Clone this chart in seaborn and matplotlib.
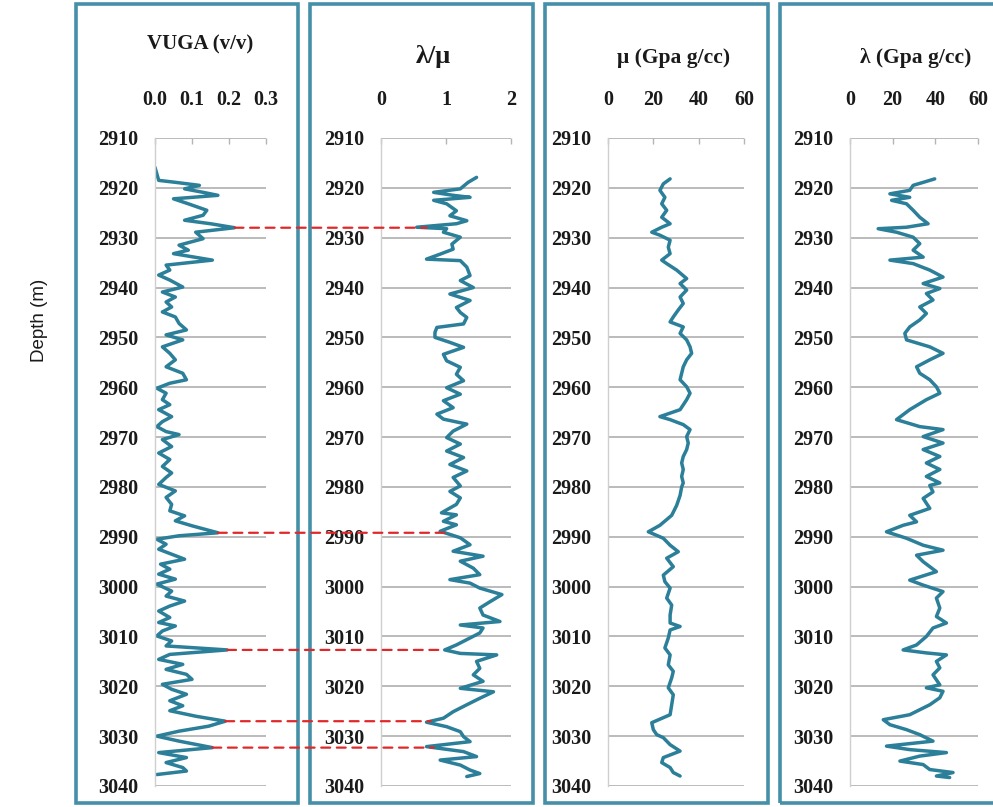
import numpy as np
import pandas as pd
import seaborn as sns
import matplotlib
matplotlib.use('Agg')
import matplotlib.pyplot as plt
from matplotlib.patches import Rectangle, ConnectionPatch

sns.set_style("white")
plt.rcParams['font.family'] = ['Liberation Serif', 'DejaVu Serif']

depth_vuga = [2915.9, 2917.2, 2918.5, 2918.9, 2919.5, 2920.2, 2920.9, 2921.5, 2922.2, 2923.2,
              2924.5, 2925.5, 2926.5, 2927.2, 2928.0, 2928.9, 2930.2, 2931.5, 2932.5, 2933.2,
              2934.5, 2935.5, 2936.5, 2937.5, 2938.5, 2939.9, 2940.9, 2941.9, 2942.9, 2943.9,
              2944.9, 2945.9, 2947.2, 2948.5, 2949.5, 2950.5, 2951.9, 2953.2, 2954.5, 2955.9,
              2957.2, 2958.5, 2959.2, 2960.2, 2961.2, 2962.5, 2963.5, 2964.5, 2965.9, 2966.9,
              2967.9, 2968.9, 2969.5, 2970.5, 2971.9, 2973.2, 2974.5, 2975.9, 2977.2, 2978.1,
              2979.5, 2980.8, 2982.1, 2983.5, 2984.8, 2985.8, 2986.8, 2987.8, 2988.5, 2989.2,
              2989.8, 2990.5, 2991.5, 2992.5, 2993.5, 2994.5, 2995.5, 2996.5, 2997.5, 2998.5,
              2999.5, 3000.9, 3001.9, 3002.9, 3003.9, 3004.9, 3006.2, 3007.2, 3007.9, 3008.9,
              3009.9, 3010.9, 3011.9, 3012.7, 3013.6, 3014.6, 3015.6, 3016.6, 3017.6, 3018.6,
              3019.6, 3020.6, 3021.6, 3022.9, 3023.9, 3024.9, 3026.0, 3027.0, 3028.0, 3029.0,
              3030.0, 3031.0, 3032.3, 3033.3, 3034.3, 3035.3, 3036.3, 3037.0, 3037.7]
vuga = [0.0, 0.005, 0.01, 0.056, 0.12, 0.08, 0.13, 0.17, 0.05, 0.09,
        0.14, 0.13, 0.08, 0.15, 0.215, 0.11, 0.13, 0.065, 0.09, 0.05,
        0.155, 0.03, 0.04, 0.01, 0.04, 0.075, 0.02, 0.055, 0.03, 0.045,
        0.02, 0.055, 0.065, 0.085, 0.03, 0.075, 0.02, 0.04, 0.055, 0.03,
        0.075, 0.085, 0.04, 0.005, 0.03, 0.02, 0.04, 0.01, 0.045, 0.02,
        0.005, 0.03, 0.065, 0.02, 0.045, 0.01, 0.04, 0.02, 0.045, 0.03,
        0.01, 0.055, 0.03, 0.045, 0.04, 0.08, 0.055, 0.1, 0.135, 0.17,
        0.065, 0.005, 0.03, 0.01, 0.045, 0.08, 0.015, 0.04, 0.01, 0.055,
        0.005, 0.045, 0.03, 0.08, 0.04, 0.01, 0.04, 0.01, 0.055, 0.02,
        0.005, 0.045, 0.03, 0.195, 0.04, 0.01, 0.075, 0.03, 0.085, 0.1,
        0.02, 0.045, 0.085, 0.04, 0.075, 0.04, 0.11, 0.19, 0.145, 0.065,
        0.005, 0.065, 0.155, 0.01, 0.085, 0.03, 0.075, 0.085, 0.005]

depth_ratio = [2917.9, 2918.9, 2920.2, 2920.9, 2921.5, 2921.9, 2922.5, 2923.2, 2924.6, 2925.6,
               2926.6, 2927.2, 2927.9, 2928.2, 2928.9, 2929.9, 2931.3, 2932.3, 2933.3, 2934.3,
               2934.6, 2935.9, 2937.6, 2938.6, 2940.0, 2941.3, 2942.6, 2944.0, 2945.0, 2946.0,
               2947.3, 2948.0, 2949.0, 2950.0, 2951.0, 2952.0, 2953.4, 2954.7, 2956.0, 2957.4,
               2958.7, 2960.1, 2961.4, 2962.7, 2964.1, 2965.4, 2966.4, 2967.4, 2968.8, 2970.1,
               2971.4, 2972.8, 2974.1, 2975.5, 2976.8, 2978.1, 2979.8, 2980.9, 2982.2, 2983.5,
               2985.2, 2985.6, 2986.9, 2987.6, 2988.9, 2990.2, 2991.6, 2992.9, 2993.9, 2994.9,
               2996.3, 2997.6, 2998.6, 2999.3, 3000.3, 3001.6, 3003.0, 3004.3, 3005.7, 3007.0,
               3007.7, 3008.3, 3009.3, 3010.3, 3011.7, 3012.7, 3013.4, 3013.7, 3015.0, 3016.4,
               3017.7, 3019.0, 3020.4, 3021.1, 3022.4, 3023.7, 3025.1, 3026.4, 3027.2, 3028.1,
               3029.1, 3030.1, 3031.1, 3032.1, 3033.1, 3034.1, 3034.8, 3035.8, 3036.8, 3037.5,
               3038.1]
ratio = [1.47, 1.34, 1.22, 0.81, 1.11, 1.37, 0.81, 1.01, 1.16, 1.06,
         1.32, 1.16, 0.55, 1.01, 0.96, 1.22, 1.09, 1.11, 0.91, 0.70,
         1.22, 1.32, 1.37, 1.22, 1.42, 1.06, 1.37, 1.16, 1.22, 1.32,
         1.27, 0.86, 0.83, 0.83, 1.06, 1.27, 0.96, 1.01, 1.22, 1.16,
         1.27, 1.01, 1.22, 0.96, 1.11, 0.86, 0.96, 1.32, 1.11, 1.01,
         1.22, 1.01, 1.27, 1.06, 1.32, 1.11, 1.22, 1.06, 1.22, 1.16,
         0.93, 1.16, 0.96, 1.16, 0.91, 1.22, 1.37, 1.11, 1.57, 1.22,
         1.42, 1.52, 1.06, 1.37, 1.52, 1.86, 1.68, 1.52, 1.57, 1.83,
         1.22, 1.57, 1.52, 1.37, 1.16, 0.98, 1.22, 1.78, 1.47, 1.52,
         1.42, 1.57, 1.22, 1.73, 1.52, 1.32, 1.11, 0.96, 0.70, 1.01,
         1.22, 1.27, 1.37, 0.70, 1.27, 1.47, 0.91, 1.22, 1.37, 1.52,
         1.32]

depth_mu = [2918.2, 2919.2, 2920.5, 2921.9, 2923.2, 2924.5, 2925.9, 2927.2, 2927.9, 2928.9,
            2929.5, 2930.5, 2931.9, 2933.2, 2934.5, 2935.2, 2936.5, 2938.2, 2939.2, 2940.5,
            2941.9, 2943.2, 2944.5, 2945.9, 2946.9, 2947.9, 2949.2, 2950.5, 2951.9, 2953.2,
            2954.5, 2955.9, 2957.2, 2958.5, 2959.9, 2961.2, 2962.5, 2964.5, 2965.9, 2966.5,
            2967.5, 2968.5, 2969.9, 2971.2, 2972.5, 2973.9, 2975.2, 2976.5, 2977.9, 2979.2,
            2980.0, 2981.7, 2983.7, 2985.7, 2987.7, 2989.0, 2990.3, 2991.7, 2993.0, 2994.3,
            2996.0, 2997.7, 2999.0, 3000.3, 3002.3, 3003.7, 3005.7, 3007.3, 3008.0, 3008.7,
            3010.3, 3012.3, 3013.7, 3015.7, 3017.0, 3018.3, 3020.3, 3021.7, 3023.7, 3025.7,
            3027.3, 3028.7, 3029.7, 3030.3, 3031.7, 3033.0, 3034.3, 3035.3, 3036.3, 3037.3,
            3038.0]
mu = [27.4, 24.4, 22.9, 25.1, 23.7, 25.9, 23.7, 27.4, 23.7, 19.3,
      22.9, 27.4, 26.6, 27.4, 23.7, 25.9, 30.3, 34.7, 31.8, 34.7,
      31.8, 33.2, 31.0, 28.8, 27.4, 33.2, 31.8, 34.7, 36.2, 36.9,
      34.7, 33.2, 32.5, 31.8, 34.7, 36.2, 34.7, 31.8, 22.9, 27.4,
      33.2, 36.2, 34.7, 35.4, 34.7, 33.2, 32.5, 33.2, 32.5, 33.2,
      32.5, 31.8, 30.3, 28.1, 22.9, 17.8, 24.4, 27.4, 31.0, 25.9,
      28.8, 24.4, 25.1, 27.4, 25.9, 28.1, 27.4, 27.4, 31.8, 27.4,
      26.6, 25.1, 27.4, 26.6, 28.8, 28.1, 26.6, 28.8, 28.1, 27.4,
      19.3, 20.0, 21.5, 24.4, 27.4, 31.8, 24.4, 23.7, 27.4, 28.8,
      31.8]

depth_lam = [2918.2, 2918.9, 2919.5, 2920.5, 2921.2, 2921.9, 2922.5, 2923.2, 2924.5, 2925.9,
             2927.2, 2927.9, 2928.2, 2928.9, 2929.9, 2931.2, 2932.5, 2933.9, 2934.5, 2935.2,
             2936.5, 2937.9, 2939.2, 2940.2, 2941.2, 2942.5, 2943.9, 2945.2, 2946.5, 2947.9,
             2949.2, 2950.5, 2951.9, 2953.2, 2954.5, 2955.9, 2957.2, 2958.5, 2959.9, 2961.2,
             2962.5, 2964.5, 2966.5, 2967.9, 2968.5, 2969.9, 2971.2, 2972.5, 2973.9, 2975.2,
             2976.5, 2977.9, 2979.2, 2979.7, 2981.0, 2982.3, 2984.3, 2985.7, 2987.0, 2987.7,
             2989.0, 2990.3, 2991.7, 2992.7, 2993.7, 2995.0, 2997.0, 2998.7, 2999.7, 3001.0,
             3002.3, 3004.3, 3006.0, 3007.3, 3008.3, 3010.0, 3011.7, 3012.7, 3013.3, 3013.7,
             3015.0, 3016.3, 3017.7, 3019.7, 3020.3, 3021.0, 3022.3, 3023.7, 3025.7, 3026.7,
             3027.7, 3028.7, 3029.7, 3031.0, 3032.0, 3032.7, 3033.3, 3034.0, 3035.0, 3035.7,
             3036.7, 3037.3, 3038.0, 3038.3]
lam = [39.7, 34.3, 29.6, 28.0, 18.7, 28.0, 19.5, 26.5, 29.6, 32.7,
       36.6, 26.5, 13.2, 21.8, 29.6, 32.7, 29.6, 34.3, 18.7, 29.6,
       37.4, 43.6, 34.3, 42.1, 35.8, 38.9, 32.7, 35.8, 32.7, 28.0,
       25.7, 26.5, 37.4, 43.6, 37.4, 31.2, 32.7, 37.4, 40.5, 42.1,
       35.8, 28.0, 21.8, 32.7, 43.6, 34.3, 43.6, 34.3, 42.1, 35.8,
       42.1, 35.8, 42.1, 37.4, 38.9, 34.3, 37.4, 28.0, 31.2, 24.9,
       17.1, 26.5, 34.3, 43.6, 31.2, 34.3, 40.5, 28.0, 34.3, 43.6,
       40.5, 42.1, 40.5, 45.2, 38.9, 35.8, 31.2, 24.9, 35.8, 45.2,
       40.5, 42.1, 38.9, 42.1, 35.8, 43.6, 42.1, 37.4, 28.0, 15.6,
       18.7, 26.5, 32.7, 38.9, 17.1, 28.0, 45.2, 32.7, 23.4, 34.3,
       37.4, 48.3, 40.5, 46.7]

# depths of the vuggy zones linked by dashed lines
marker_depth = [2928.0, 2989.2, 3012.7, 3027.0, 3032.3]

titles = ['VUGA (v/v)', 'λ/μ', 'μ (Gpa g/cc)', 'λ (Gpa g/cc)']
xticks = [[0.0, 0.1, 0.2, 0.3], [0, 1, 2], [0, 20, 40, 60], [0, 20, 40, 60]]
xlabels = [['0.0', '0.1', '0.2', '0.3'], ['0', '1', '2'],
           ['0', '20', '40', '60'], ['0', '20', '40', '60']]
depth_ticks = list(range(2910, 3041, 10))

tracks = [(depth_vuga, vuga), (depth_ratio, ratio), (depth_mu, mu), (depth_lam, lam)]

W, H = 993, 807
fig = plt.figure(figsize=(W / 100, H / 100), dpi=100)

line_col = '#2b7f99'
box_col = '#4590a8'

# axes in pixel coords: left, right of plotting area
ax_px = [(155, 266), (381, 511), (608, 744), (850, 978)]
box_px = [(76, 298), (310, 533), (545, 768), (780, 1005)]
title_pos = [(200, 44, 15), (433, 56, 19), (674, 58, 15.5), (916, 58, 15.5)]
top_px, bot_px = 138, 786

axes = []
for i, (dep, val) in enumerate(tracks):
    l, r = ax_px[i]
    ax = fig.add_axes([l / W, 1 - bot_px / H, (r - l) / W, (bot_px - top_px) / H])
    df = pd.DataFrame({'depth': dep, 'val': val})
    sns.lineplot(data=df, x='val', y='depth', sort=False, estimator=None,
                 color=line_col, linewidth=2.5, ax=ax)
    for ln in ax.lines:
        ln.set_solid_joinstyle('round')
        ln.set_solid_capstyle('round')
    ax.set_ylim(3040, 2910)
    ax.set_xlim(xticks[i][0], xticks[i][-1])
    ax.set_yticks(depth_ticks)
    ax.set_yticklabels([str(d) for d in depth_ticks])
    ax.set_xticks(xticks[i])
    ax.set_xticklabels(xlabels[i])
    ax.xaxis.tick_top()
    ax.set_xlabel('')
    ax.set_ylabel('')
    ax.grid(axis='y', color='#b5b5b5', linewidth=1.3)
    ax.grid(axis='x', visible=False)
    ax.set_axisbelow(True)
    for s in ['right', 'bottom', 'top']:
        ax.spines[s].set_visible(False)
    ax.spines['left'].set_color('#cfcfcf')
    ax.spines['left'].set_linewidth(1.0)
    ax.tick_params(axis='y', length=6, width=1.3, color='#b5b5b5', pad=6,
                   labelsize=14.5)
    ax.tick_params(axis='x', length=4, width=1.0, color='#b5b5b5', direction='in',
                   pad=20, labelsize=14.5)
    for t in ax.get_xticklabels() + ax.get_yticklabels():
        t.set_fontweight('bold')
        t.set_color('#1a1a1a')
    ax.patch.set_alpha(0)
    axes.append(ax)

    bl, br = box_px[i]
    fig.patches.append(Rectangle((bl / W, 4 / H), (br - bl) / W, 799 / H,
                                 transform=fig.transFigure, fill=False,
                                 edgecolor=box_col, linewidth=2.6, zorder=0))
    tx, ty, ts = title_pos[i]
    fig.text(tx / W, 1 - ty / H, titles[i], ha='center', va='center',
             fontsize=ts, fontweight='bold', color='#1a1a1a')

# dashed links between VUGA peaks and λ/μ lows
for d in marker_depth:
    v1 = np.interp(d, depth_vuga, vuga)
    v2 = np.interp(d, depth_ratio, ratio)
    con = ConnectionPatch(xyA=(v1, d), coordsA=axes[0].transData,
                          xyB=(v2, d), coordsB=axes[1].transData,
                          color='#e0282a', linestyle=(0, (4, 3)), linewidth=1.6,
                          zorder=10)
    fig.add_artist(con)

fig.text(40 / W, 1 - 320 / H, 'Depth (m)', rotation=90, ha='center', va='center',
         fontsize=13.5, family=['Liberation Sans', 'DejaVu Sans'], color='#1a1a1a')

fig.savefig('out.png', dpi=100)
